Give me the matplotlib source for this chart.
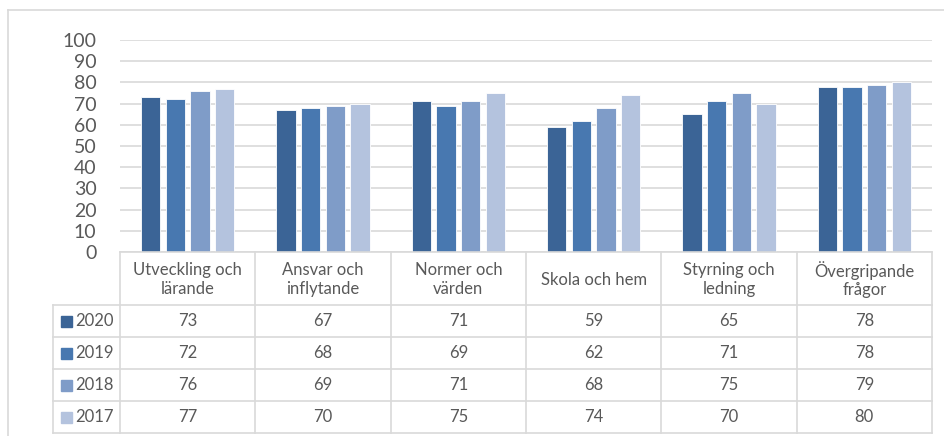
import matplotlib.pyplot as plt
from matplotlib.patches import Rectangle
import numpy as np

# data
categories = ["Utveckling och\nlärande", "Ansvar och\ninflytande", "Normer och\nvärden",
              "Skola och hem", "Styrning och\nledning", "Övergripande\nfrågor"]
years = ["2020", "2019", "2018", "2017"]
v2020 = [73, 67, 71, 59, 65, 78]
v2019 = [72, 68, 69, 62, 71, 78]
v2018 = [76, 69, 71, 68, 75, 79]
v2017 = [77, 70, 75, 74, 70, 80]
series = [v2020, v2019, v2018, v2017]
colors = ["#3B6496", "#4878B0", "#7F9CC8", "#B4C3DE"]

plt.rcParams['font.family'] = ['Lato', 'DejaVu Sans']
W, H = 945, 436
grid_col = "#D9D9D9"
text_col = "#595959"
fs_table = 12

fig = plt.figure(figsize=(W / 100, H / 100), dpi=100)

# chart area (pixel layout of the reference)
x0, x1, y_top, y_zero = 120, 932, 40, 252
ax = fig.add_axes([x0 / W, (H - y_zero) / H, (x1 - x0) / W, (y_zero - y_top) / H])
x = np.arange(len(categories))
step, width = 0.182, 0.144
for i, (vals, c) in enumerate(zip(series, colors)):
    ax.bar(x + (i - 1.5) * step, vals, width, color=c, edgecolor="#FFFFFF", linewidth=0.6, zorder=3)

ax.set_xlim(-0.5, len(categories) - 0.5)
ax.set_ylim(0, 100)
ax.set_yticks(range(0, 101, 10))
ax.set_xticks([])
ax.yaxis.grid(True, color=grid_col, linewidth=1.2)
ax.set_axisbelow(True)
ax.tick_params(axis='y', length=0, pad=17, labelsize=14, labelcolor=text_col)
for s in ax.spines.values():
    s.set_visible(False)

# overlay in pixel coordinates for frame and data table
tab = fig.add_axes([0, 0, 1, 1])
tab.set_xlim(0, W)
tab.set_ylim(H, 0)
tab.axis('off')

# outer chart frame (top and left visible)
tab.plot([8, 8], [10, H], color=grid_col, lw=1.2)
tab.plot([8, W], [10, 10], color=grid_col, lw=1.2)

rows = [252, 305, 337, 369, 401, 433]
col_w = (x1 - x0) / len(categories)
cols = [x0 + col_w * i for i in range(len(categories) + 1)]
leg_x = 53

tab.plot([x0, x1], [rows[0], rows[0]], color=grid_col, lw=1.2)
for y in rows[1:]:
    tab.plot([leg_x, x1], [y, y], color=grid_col, lw=1.2)
for cx in cols:
    tab.plot([cx, cx], [rows[0], rows[-1]], color=grid_col, lw=1.2)
tab.plot([leg_x, leg_x], [rows[1], rows[-1]], color=grid_col, lw=1.2)

# header row
for j, cat in enumerate(categories):
    tab.text((cols[j] + cols[j + 1]) / 2, (rows[0] + rows[1]) / 2 + 1, cat,
             ha='center', va='center', fontsize=fs_table, color=text_col, linespacing=1.2)

# value rows with legend keys
for i, (yr, vals, c) in enumerate(zip(years, series, colors)):
    yc = (rows[i + 1] + rows[i + 2]) / 2
    tab.add_patch(Rectangle((61, yc - 5.5), 11, 11, color=c))
    tab.text(75, yc, yr, ha='left', va='center', fontsize=fs_table, color=text_col)
    for j, v in enumerate(vals):
        tab.text((cols[j] + cols[j + 1]) / 2, yc, str(v), ha='center', va='center',
                 fontsize=fs_table, color=text_col)

fig.savefig("out.png", dpi=100)
